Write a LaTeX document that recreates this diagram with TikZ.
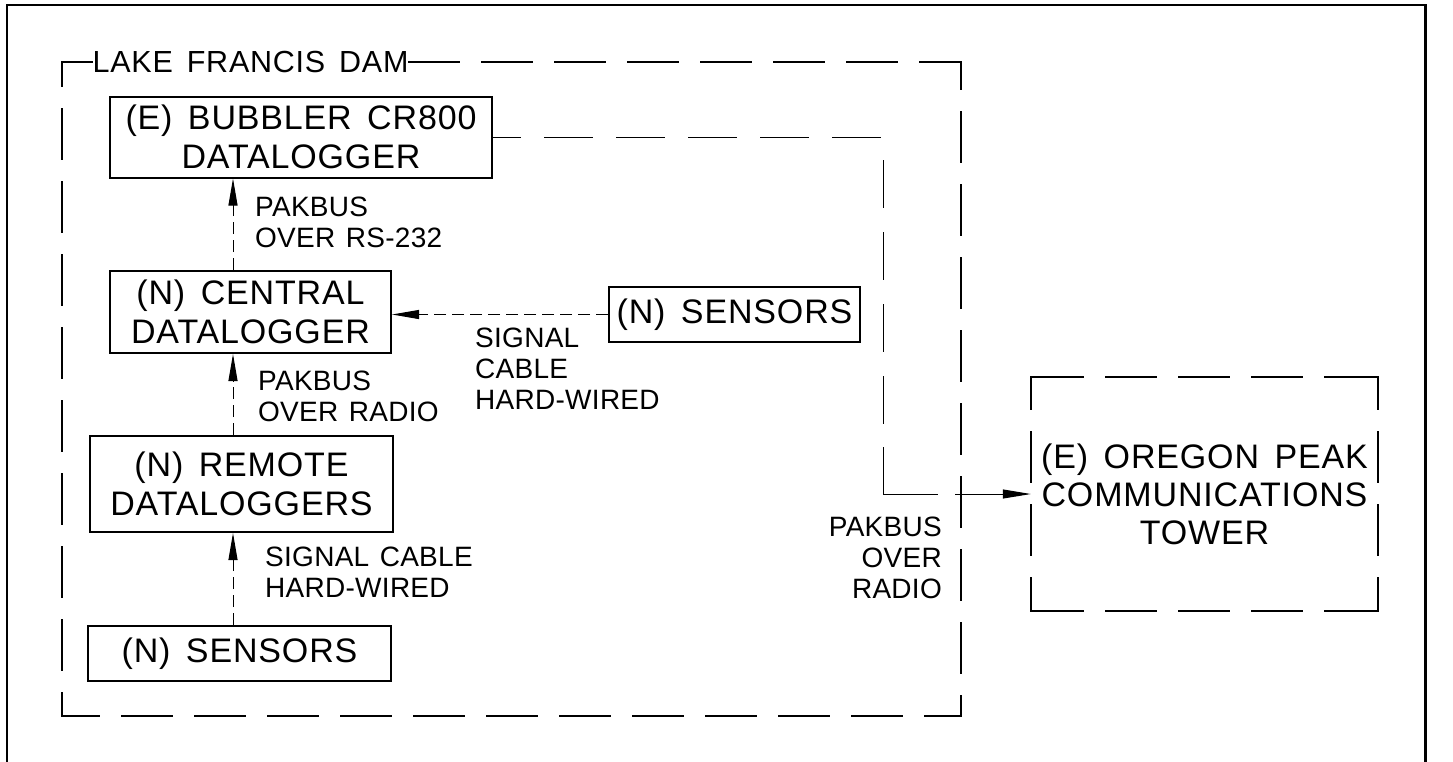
\documentclass[tikz,border=0pt]{standalone}
\usepackage{fontspec}
\setmainfont{Liberation Sans}
\newfontfamily\boxfont[LetterSpace=2.5,WordSpace=1.5]{Liberation Sans}
\newfontfamily\lblfont[LetterSpace=1,WordSpace=1.3]{Liberation Sans}
\usetikzlibrary{arrows.meta,calc}
\begin{document}
\begin{tikzpicture}[x=1pt,y=-1pt,
  box/.style={draw,line width=2pt,inner sep=0pt,align=center,font=\boxfont\fontsize{34}{39}\selectfont},
  lbl/.style={inner sep=0pt,font=\lblfont\fontsize{28}{31}\selectfont},
  conn/.style={line width=1pt,dash pattern=on 12pt off 6pt,-{Triangle[length=27pt,width=9pt]}},
  longdash/.style={line width=1pt,dash pattern=on 28pt off 23pt on 49pt off 23pt on 49pt off 23pt on 49pt off 23pt on 49pt off 23pt on 49pt off 25pt on 48pt off 24pt on 48pt off 24pt on 48pt off 24pt on 48pt off 23pt on 102pt off 17pt on 200pt off 10pt},
  zone/.style={line width=2pt,line cap=rect},
  zdash/.style={zone,dash pattern=on 50pt off 23pt}
]
\useasboundingbox (0,0) rectangle (1453,761);
\clip (0,0) rectangle (1453,761);

% outer frame
\draw[line width=2.5pt] (7,790) -- (7,5) -- (1425.5,5) -- (1425.5,790);

% zone: LAKE FRANCIS DAM
\node[inner xsep=0.5pt,inner ysep=0pt,anchor=west,font=\boxfont\fontsize{30.5}{34}\selectfont] (zlabel) at (92,62) {LAKE FRANCIS DAM};
\draw[zone] (62,62) -- (zlabel.west);
\draw[zdash] (zlabel.east) -- (961,62);
\draw[zdash,dash phase=23pt] (961,62) -- (961,716);
\draw[zdash,dash phase=13.5pt] (961,716) -- (62,716);
\draw[zdash,dash phase=26.5pt] (62,716) -- (62,62);

% boxes
\node[box,minimum width=382pt,minimum height=81pt] (bub) at (301,137) {(E) BUBBLER CR800\\DATALOGGER};
\node[box,minimum width=281pt,minimum height=82pt] (cen) at (250.5,312) {(N) CENTRAL\\DATALOGGER};
\node[box,minimum width=303pt,minimum height=96pt] (rem) at (241.5,484) {(N) REMOTE\\DATALOGGERS};
\node[box,minimum width=303pt,minimum height=55pt] (sen1) at (239.5,653.5) {(N) SENSORS};
\node[box,minimum width=251pt,minimum height=55pt] (sen2) at (734.5,314.5) {(N) SENSORS};

% Oregon peak tower (dashed box)
\node[inner sep=0pt,align=center,font=\boxfont\fontsize{34}{38}\selectfont,minimum width=347pt,minimum height=234pt] (oreg) at (1204.5,494) {(E) OREGON PEAK\\COMMUNICATIONS\\TOWER};
\draw[zone,dash pattern=on 52.5pt off 23pt on 50pt off 23pt on 50pt off 23pt on 50pt off 23pt on 52.5pt off 60pt] (oreg.north west) -- (oreg.north east);
\draw[zone,dash pattern=on 52.5pt off 23pt on 50pt off 23pt on 50pt off 23pt on 50pt off 23pt on 52.5pt off 60pt] (oreg.south west) -- (oreg.south east);
\draw[zone,dash pattern=on 32.5pt off 23pt on 50pt off 23pt on 50pt off 23pt on 32.5pt off 60pt] (oreg.north west) -- (oreg.south west);
\draw[zone,dash pattern=on 32.5pt off 23pt on 50pt off 23pt on 50pt off 23pt on 32.5pt off 60pt] (oreg.north east) -- (oreg.south east);

% connectors
\coordinate (cx) at (233,0);
\coordinate (rx) at (883,0);
\draw[conn] (cen.north -| cx) -- (bub.south -| cx);
\draw[conn] (rem.north -| cx) -- (cen.south -| cx);
\draw[conn] (sen1.north -| cx) -- (rem.south -| cx);
\draw[conn] (sen2.west) -- (cen.east |- sen2.west);
\draw[longdash,-{Triangle[length=28pt,width=9pt]}] (bub.east) -- (bub.east -| rx) |- (oreg.west);

% labels
\node[lbl,align=left,anchor=north west] (l1) at (255,197) {PAKBUS\\OVER RS-232};
\node[lbl,align=left,anchor=north west] (l2) at (258,371) {PAKBUS\\OVER RADIO};
\node[lbl,align=left,anchor=north west] (l3) at (265,547) {SIGNAL CABLE\\HARD-WIRED};
\node[lbl,align=left,anchor=north west] (l4) at (475,328) {SIGNAL\\CABLE\\HARD-WIRED};
\node[lbl,align=right,anchor=north east] (l5) at (942,517) {PAKBUS\\OVER\\RADIO};
\end{tikzpicture}
\end{document}
